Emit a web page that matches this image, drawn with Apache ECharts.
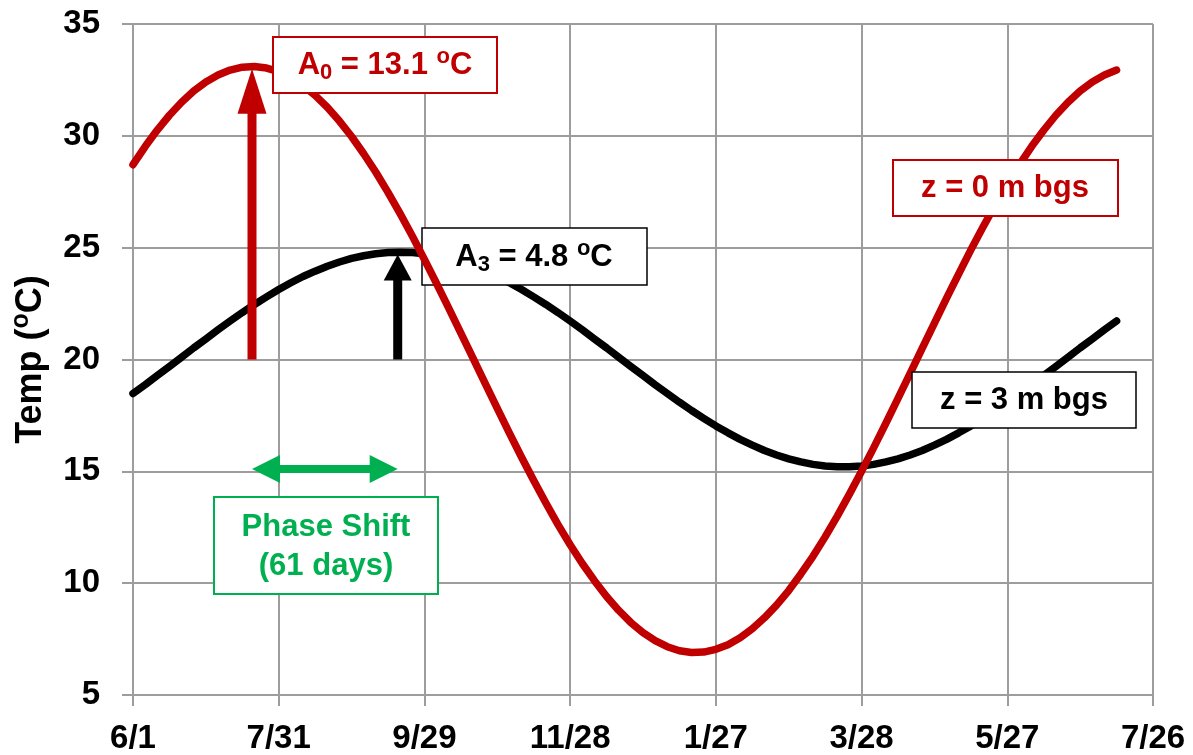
<!DOCTYPE html>
<html>
<head>
<meta charset="utf-8">
<script src="https://cdn.jsdelivr.net/npm/echarts@6/dist/echarts.min.js"></script>
<style>
  html, body { margin: 0; padding: 0; background: #ffffff; }
  #chart { width: 1193px; height: 755px; }
</style>
</head>
<body>
<div id="chart"></div>
<script>
// Day of record (0 = 6/1), sampled every 5 days
const days = [0, 5, 10, 15, 20, 25, 30, 35, 40, 45, 50, 55, 60, 65, 70, 75, 80, 85, 90, 95,
              100, 105, 110, 115, 120, 125, 130, 135, 140, 145, 150, 155, 160, 165, 170, 175, 180, 185, 190, 195,
              200, 205, 210, 215, 220, 225, 230, 235, 240, 245, 250, 255, 260, 265, 270, 275, 280, 285, 290, 295,
              300, 305, 310, 315, 320, 325, 330, 335, 340, 345, 350, 355, 360, 365, 370, 375, 380, 385, 390, 395,
              400, 405];
// Ground temperature at the surface (z = 0 m bgs), degC
const surfaceTemp = [28.71, 29.52, 30.26, 30.92, 31.50, 32.00, 32.41, 32.72, 32.94, 33.07,
                     33.10, 33.03, 32.87, 32.61, 32.25, 31.81, 31.28, 30.66, 29.97, 29.20,
                     28.37, 27.47, 26.52, 25.52, 24.47, 23.40, 22.30, 21.18, 20.06, 18.93,
                     17.81, 16.71, 15.63, 14.59, 13.58, 12.62, 11.72, 10.88, 10.11, 9.40,
                     8.78, 8.24, 7.79, 7.43, 7.16, 6.98, 6.90, 6.92, 7.04, 7.25,
                     7.56, 7.96, 8.45, 9.02, 9.67, 10.41, 11.20, 12.07, 13.00, 13.98,
                     15.00, 16.06, 17.15, 18.26, 19.38, 20.51, 21.63, 22.74, 23.83, 24.90,
                     25.92, 26.90, 27.84, 28.71, 29.52, 30.25, 30.92, 31.50, 32.00, 32.41,
                     32.72, 32.94];
// Ground temperature at 3 m below ground surface, degC
const depth3Temp = [18.48, 18.87, 19.28, 19.69, 20.10, 20.52, 20.92, 21.33, 21.72, 22.10,
                    22.46, 22.80, 23.13, 23.43, 23.71, 23.95, 24.17, 24.36, 24.52, 24.64,
                    24.73, 24.78, 24.80, 24.78, 24.73, 24.64, 24.52, 24.36, 24.17, 23.95,
                    23.71, 23.43, 23.13, 22.80, 22.46, 22.10, 21.72, 21.33, 20.92, 20.52,
                    20.10, 19.69, 19.28, 18.87, 18.48, 18.09, 17.72, 17.37, 17.03, 16.72,
                    16.43, 16.17, 15.93, 15.73, 15.56, 15.42, 15.31, 15.24, 15.20, 15.20,
                    15.24, 15.31, 15.42, 15.56, 15.73, 15.93, 16.17, 16.43, 16.72, 17.03,
                    17.37, 17.72, 18.09, 18.48, 18.87, 19.28, 19.69, 20.10, 20.52, 20.92,
                    21.33, 21.72];
// x-axis tick labels, one per 60 days
const tickLabels = ['6/1', '7/31', '9/29', '11/28', '1/27', '3/28', '5/27', '7/26'];
// Amplitude arrows: [day, from temp, to temp]
const surfaceAmpArrow = [49, 20, 33.0];
const depthAmpArrow = [109, 20, 24.7];
// Phase shift arrow: [start day, end day, temp]
const phaseArrow = [49, 109, 15.1];

const FONT = '"Liberation Sans", Arial, Helvetica, sans-serif';
const RED = '#c00000';
const GREEN = '#00b050';
const GRID = '#9d9d9d';

const chart = echarts.init(document.getElementById('chart'), null, { renderer: 'canvas' });

function zip(xs, ys) { return xs.map((x, i) => [x, ys[i]]); }

function verticalArrow(params, api) {
  const x = api.value(0);
  const p0 = api.coord([x, api.value(1)]);
  const p1 = api.coord([x, api.value(2)]);
  const isSurface = api.value(3) === 0;
  const color = isSurface ? RED : '#000000';
  const shaft = 9;
  const headW = isSurface ? 29 : 28;
  const headL = isSurface ? 45 : 26;
  const cx = p0[0];
  return {
    type: 'group',
    children: [
      { type: 'rect', shape: { x: cx - shaft / 2, y: p1[1] + headL - 1, width: shaft, height: p0[1] - p1[1] - headL + 1 },
        style: { fill: color } },
      { type: 'polygon', shape: { points: [[cx, p1[1]], [cx - headW / 2, p1[1] + headL], [cx + headW / 2, p1[1] + headL]] },
        style: { fill: color } }
    ]
  };
}

function horizontalArrow(params, api) {
  const y = api.value(2);
  const pa = api.coord([api.value(0), y]);
  const pb = api.coord([api.value(1), y]);
  const t = 8, headH = 28, headL = 28;
  const cy = pa[1];
  return {
    type: 'group',
    children: [
      { type: 'rect', shape: { x: pa[0] + headL - 1, y: cy - t / 2, width: pb[0] - pa[0] - 2 * headL + 2, height: t },
        style: { fill: GREEN } },
      { type: 'polygon', shape: { points: [[pa[0], cy], [pa[0] + headL, cy - headH / 2], [pa[0] + headL, cy + headH / 2]] },
        style: { fill: GREEN } },
      { type: 'polygon', shape: { points: [[pb[0], cy], [pb[0] - headL, cy - headH / 2], [pb[0] - headL, cy + headH / 2]] },
        style: { fill: GREEN } }
    ]
  };
}

function richSet(color) {
  return {
    t: { fontSize: 31, fontWeight: 'bold', fontFamily: FONT, fill: color, lineHeight: 38 },
    s: { fontSize: 22, fontWeight: 'bold', fontFamily: FONT, fill: color, lineHeight: 19, verticalAlign: 'bottom' },
    u: { fontSize: 22, fontWeight: 'bold', fontFamily: FONT, fill: color, lineHeight: 26, verticalAlign: 'top' }
  };
}

function box(x, y, w, h, stroke, lw, z) {
  return { type: 'rect', z: z, shape: { x: x, y: y, width: w, height: h },
           style: { fill: '#ffffff', stroke: stroke, lineWidth: lw } };
}

function label(cx, cy, text, color, z, rich) {
  const style = { text: text, align: 'center', verticalAlign: 'middle', fill: color,
                  fontSize: 31, fontWeight: 'bold', fontFamily: FONT, lineHeight: 39 };
  if (rich) style.rich = richSet(color);
  return { type: 'text', z: z, x: cx, y: cy, style: style };
}

const option = {
  backgroundColor: '#ffffff',
  animation: false,
  grid: { left: 133, right: 40, top: 24, bottom: 59, containLabel: false },
  xAxis: {
    type: 'value', min: 0, max: 420, interval: 60,
    axisLine: { show: false },
    axisTick: { show: true, inside: false, length: 11, lineStyle: { color: GRID, width: 2 } },
    splitLine: { show: true, lineStyle: { color: GRID, width: 2 } },
    axisLabel: {
      show: true, margin: 27, color: '#000', fontSize: 33, fontWeight: 'bold', fontFamily: FONT,
      showMinLabel: true, showMaxLabel: true, hideOverlap: false,
      formatter: v => tickLabels[Math.round(v / 60)]
    }
  },
  yAxis: {
    type: 'value', min: 5, max: 35, interval: 5,
    axisLine: { show: false },
    axisTick: { show: true, inside: false, length: 11, lineStyle: { color: GRID, width: 2 } },
    splitLine: { show: true, lineStyle: { color: GRID, width: 2 } },
    axisLabel: {
      show: true, margin: 33, color: '#000', fontSize: 33, fontWeight: 'bold', fontFamily: FONT,
      showMinLabel: true, showMaxLabel: true
    },
    name: '{b|Temp (}{o|o}{b|C)}',
    nameLocation: 'middle',
    nameRotate: 90,
    nameGap: 80,
    nameTextStyle: {
      rich: {
        b: { fontSize: 36, fontWeight: 'bold', fontFamily: FONT, color: '#000', lineHeight: 44 },
        o: { fontSize: 25, fontWeight: 'bold', fontFamily: FONT, color: '#000', lineHeight: 30, verticalAlign: 'top' }
      }
    }
  },
  series: [
    {
      name: 'z = 3 m bgs', type: 'line', z: 2,
      data: zip(days, depth3Temp), smooth: false, showSymbol: false, symbol: 'none',
      lineStyle: { color: '#000000', width: 7.5, cap: 'round', join: 'round' }
    },
    {
      name: 'z = 0 m bgs', type: 'line', z: 4,
      data: zip(days, surfaceTemp), smooth: false, showSymbol: false, symbol: 'none',
      lineStyle: { color: RED, width: 7.5, cap: 'round', join: 'round' }
    },
    {
      name: 'amplitude', type: 'custom', z: 6, renderItem: verticalArrow, silent: true,
      encode: { x: 0, y: [1, 2] },
      data: [surfaceAmpArrow.concat([0]), depthAmpArrow.concat([1])]
    },
    {
      name: 'phase', type: 'custom', z: 6, renderItem: horizontalArrow, silent: true,
      encode: { x: [0, 1], y: 2 },
      data: [phaseArrow]
    }
  ],
  graphic: {
    elements: [
      // depth amplitude label sits under the surface curve
      box(422, 228, 225, 57, '#000000', 1.5, 3),
      label(534, 257, '{t|A}{s|3}{t| = 4.8 }{u|o}{t|C}', '#000000', 3, true),
      box(273, 37, 224, 56, RED, 2, 10),
      label(385, 65, '{t|A}{s|0}{t| = 13.1 }{u|o}{t|C}', RED, 10, true),
      box(893, 160, 225, 56, RED, 2, 10),
      label(1005, 188, 'z = 0 m bgs', RED, 10, false),
      box(912, 372, 224, 56, '#000000', 1.5, 10),
      label(1024, 400, 'z = 3 m bgs', '#000000', 10, false),
      box(214, 497, 224, 97, GREEN, 2, 10),
      label(326, 547, 'Phase Shift\n(61 days)', GREEN, 10, false)
    ]
  }
};

chart.setOption(option);
</script>
</body>
</html>
